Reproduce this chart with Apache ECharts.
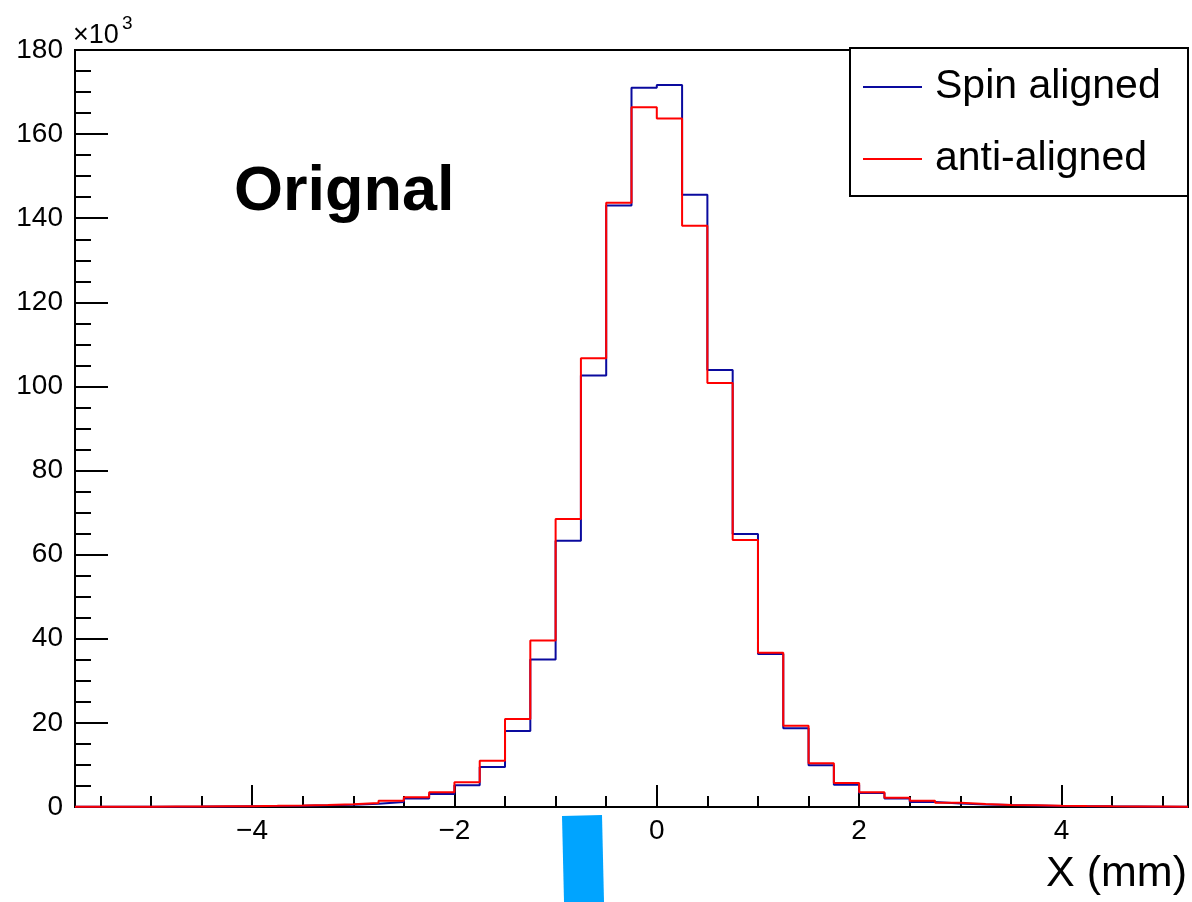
<!DOCTYPE html>
<html>
<head>
<meta charset="utf-8">
<title>X distribution</title>
<script src="https://cdn.jsdelivr.net/npm/echarts@6/dist/echarts.min.js"></script>
<style>
  html, body { margin: 0; padding: 0; background: #fff; }
  #chart { width: 1192px; height: 902px; }
</style>
</head>
<body>
<div id="chart"></div>
<script>
// Histogram binning (mm)
const binStart = -5.75;
const binWidth = 0.25;

// Entries per bin, in thousands (axis shows x10^3)
const spinAligned = [
  0.04, 0.05, 0.06, 0.08, 0.10, 0.13, 0.17, 0.22, 0.30, 0.40,
  0.55, 0.80, 1.20, 2.00, 3.10, 5.20, 9.50, 18.1, 35.1, 63.3,
  102.6, 143.0, 171.0, 171.7, 145.6, 103.9, 64.9, 36.4, 18.7, 9.9,
  5.3, 3.3, 2.0, 1.2, 0.85, 0.60, 0.45, 0.35, 0.25, 0.20,
  0.15, 0.11, 0.08, 0.06
];
const antiAligned = [
  0.05, 0.06, 0.08, 0.10, 0.12, 0.16, 0.20, 0.27, 0.36, 0.48,
  0.65, 0.95, 1.50, 2.30, 3.50, 5.90, 11.0, 20.9, 39.6, 68.5,
  106.7, 143.7, 166.4, 163.7, 138.2, 100.8, 63.5, 36.7, 19.3, 10.4,
  5.7, 3.5, 2.2, 1.5, 1.00, 0.70, 0.50, 0.40, 0.30, 0.22,
  0.17, 0.13, 0.10, 0.07
];

const seriesNames = ['Spin aligned', 'anti-aligned'];
const xMajorTicks = [-4, -2, 0, 2, 4];
const xMinorTicks = [-5.5, -5, -4.5, -3.5, -3, -2.5, -1.5, -1, -0.5, 0.5, 1, 1.5, 2.5, 3, 3.5, 4.5, 5];
const yMajorTicks = [0, 20, 40, 60, 80, 100, 120, 140, 160, 180];
const yMinorTicks = [5, 10, 15, 25, 30, 35, 45, 50, 55, 65, 70, 75, 85, 90, 95,
                     105, 110, 115, 125, 130, 135, 145, 150, 155, 165, 170, 175];

// Turn bin contents into step points at the bin edges
function histPoints(values) {
  const pts = values.map((v, i) => [binStart + i * binWidth, v]);
  pts.push([binStart + values.length * binWidth, values[values.length - 1]]);
  return pts;
}

const xMin = binStart;
const xMax = binStart + spinAligned.length * binWidth;
const FONT = '"Liberation Sans", Arial, Helvetica, sans-serif';
const tickLine = { color: '#000', width: 2 };

const chart = echarts.init(document.getElementById('chart'), null, { renderer: 'canvas' });

const option = {
  animation: false,
  backgroundColor: '#fff',
  grid: {
    left: 75, right: 4, top: 50, bottom: 95,
    outerBoundsMode: 'none',
    show: true, borderColor: '#000', borderWidth: 2, backgroundColor: 'transparent'
  },
  xAxis: [
    {
      type: 'value', min: xMin, max: xMax,
      axisLine: { show: true, onZero: false, lineStyle: tickLine },
      axisTick: { show: true, inside: true, length: 22, customValues: xMajorTicks, lineStyle: tickLine },
      axisLabel: {
        show: true, customValues: xMajorTicks, margin: 10,
        fontSize: 28, fontFamily: FONT, color: '#000',
        formatter: v => String(v).replace('-', '\u2212')
      },
      splitLine: { show: false }
    },
    {
      type: 'value', min: xMin, max: xMax, position: 'bottom',
      axisLine: { show: false, onZero: false },
      axisTick: { show: true, inside: true, length: 11, customValues: xMinorTicks, lineStyle: tickLine },
      axisLabel: { show: false },
      splitLine: { show: false }
    }
  ],
  yAxis: [
    {
      type: 'value', min: 0, max: 180, position: 'left',
      axisLine: { show: true, onZero: false, lineStyle: tickLine },
      axisTick: { show: true, inside: true, length: 33, customValues: yMajorTicks, lineStyle: tickLine },
      axisLabel: { customValues: yMajorTicks, fontSize: 28, fontFamily: FONT, color: '#000', margin: 12 },
      splitLine: { show: false }
    },
    {
      type: 'value', min: 0, max: 180, position: 'left',
      axisLine: { show: false, onZero: false },
      axisTick: { show: true, inside: true, length: 16, customValues: yMinorTicks, lineStyle: tickLine },
      axisLabel: { show: false },
      splitLine: { show: false }
    }
  ],
  legend: {
    data: seriesNames,
    orient: 'vertical',
    left: 863, top: 65,
    padding: 0,
    itemGap: 28,
    itemWidth: 59, itemHeight: 2,
    icon: 'rect',
    selectedMode: false,
    textStyle: { fontSize: 41, fontFamily: FONT, color: '#000', lineHeight: 44, padding: [0, 0, 0, 8] },
    z: 10
  },
  series: [
    {
      name: seriesNames[0], type: 'line', step: 'end',
      data: histPoints(spinAligned),
      showSymbol: false, symbol: 'none',
      color: '#0a0a9e',
      lineStyle: { color: '#0a0a9e', width: 2 },
      z: 2
    },
    {
      name: seriesNames[1], type: 'line', step: 'end',
      data: histPoints(antiAligned),
      showSymbol: false, symbol: 'none',
      color: '#ff0000',
      lineStyle: { color: '#ff0000', width: 2 },
      z: 3
    }
  ],
  graphic: [
    { type: 'rect', z: 5,
      shape: { x: 850, y: 48, width: 338, height: 148 },
      style: { fill: '#fff', stroke: '#000', lineWidth: 2 } },
    { type: 'text', z: 6,
      style: { x: 73, y: 22, text: '\u00d710', fontSize: 27, fontFamily: FONT, fill: '#000',
               align: 'left', verticalAlign: 'top' } },
    { type: 'text', z: 6,
      style: { x: 122, y: 14, text: '3', fontSize: 19, fontFamily: FONT, fill: '#000',
               align: 'left', verticalAlign: 'top' } },
    { type: 'text', z: 6,
      style: { x: 234, y: 161, text: 'Orignal', fontSize: 63, fontWeight: 'bold', fontFamily: FONT,
               fill: '#000', align: 'left', verticalAlign: 'top' } },
    { type: 'text', z: 6,
      style: { x: 1187, y: 853, text: 'X (mm)', fontSize: 43, fontFamily: FONT, fill: '#000',
               align: 'right', verticalAlign: 'top' } },
    { type: 'polygon', z: 6,
      shape: { points: [[562, 816], [602, 815], [604, 902], [564, 902]] },
      style: { fill: '#00a4ff' } }
  ]
};

chart.setOption(option);
</script>
</body>
</html>
